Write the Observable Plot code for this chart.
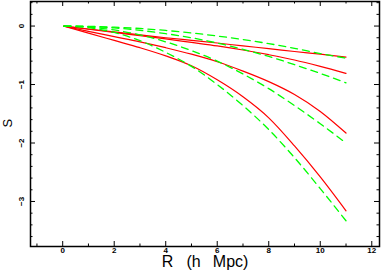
<!DOCTYPE html>
<html><head><meta charset="utf-8">
<script src="https://cdn.jsdelivr.net/npm/d3@7"></script>
<script src="https://cdn.jsdelivr.net/npm/@observablehq/plot@0.6"></script>
<style>body{margin:0;background:#fff}</style>
</head><body><div id="chart"></div>
<script>
// Radius values (h^-1 Mpc)
const R = [0.05, 1, 2, 3, 4, 5, 6, 7, 8, 9, 10, 11];
// Red solid curves
const red1 = [0, -0.05, -0.10, -0.15, -0.20, -0.245, -0.29, -0.34, -0.385, -0.435, -0.48, -0.53];
const red2 = [0, -0.055, -0.11, -0.165, -0.22, -0.28, -0.34, -0.41, -0.49, -0.58, -0.69, -0.81];
const red3 = [0, -0.09, -0.18, -0.27, -0.37, -0.48, -0.61, -0.77, -0.95, -1.17, -1.46, -1.83];
const red4 = [0, -0.12, -0.245, -0.37, -0.51, -0.68, -0.92, -1.21, -1.57, -2.05, -2.58, -3.16];
// Green dashed curves
const green1 = [0, -0.005, -0.019, -0.042, -0.075, -0.118, -0.17, -0.23, -0.30, -0.38, -0.47, -0.55];
const green2 = [0, -0.008, -0.032, -0.073, -0.13, -0.20, -0.29, -0.40, -0.52, -0.66, -0.81, -0.97];
const green3 = [0, -0.017, -0.067, -0.15, -0.27, -0.42, -0.60, -0.82, -1.07, -1.36, -1.67, -2.0];
const green4 = [0, -0.028, -0.11, -0.25, -0.45, -0.69, -1.0, -1.36, -1.77, -2.25, -2.78, -3.33];
// Ticks
const xMajor = [0, 2, 4, 6, 8, 10, 12];
const xTickLabels = ["0", "2", "4", "6", "8", "10", "12"];
const xMinor = [-1, 1, 3, 5, 7, 9, 11];
const yMajor = [0, -1, -2, -3];
const yTickLabels = ["0", "\u22121", "\u22122", "\u22123"];
const yMinor = [0.4, 0.2, -0.2, -0.4, -0.6, -0.8, -1.2, -1.4, -1.6, -1.8, -2.2, -2.4, -2.6, -2.8, -3.2, -3.4, -3.6];
const xLabel = "R\u00a0\u00a0\u00a0(h\u00a0\u00a0\u2009Mpc)";
const yLabel = "S";

const redSeries = [red1, red2, red3, red4];
const greenSeries = [green1, green2, green3, green4];
const toRows = (list, prefix) => list.flatMap((s, k) => s.map((v, i) => ({R: R[i], S: v, series: prefix + k})));
const redRows = toRows(redSeries, "red");
const greenRows = toRows(greenSeries, "green");

const W = 382, H = 274, mL = 30, mR = 3, mT = 1, mB = 28;
const fw = W - mL - mR, fh = H - mT - mB;
const font = "Liberation Sans, Arial, Helvetica, sans-serif";

const chart = Plot.plot({
  width: W, height: H,
  marginLeft: mL, marginRight: mR, marginTop: mT, marginBottom: mB,
  x: {domain: [-1.25, 12.3], axis: null},
  y: {domain: [-3.77, 0.42], axis: null},
  style: {fontFamily: font, background: "#fff", overflow: "visible"},
  marks: [
    Plot.line(redRows, {x: "R", y: "S", z: "series", stroke: "#ff0000", strokeWidth: 1.2, curve: "monotone-x"}),
    Plot.line(greenRows, {x: "R", y: "S", z: "series", stroke: "#00ff00", strokeWidth: 1.3, strokeDasharray: "7,5", curve: "monotone-x"}),
    // ticks bottom/top
    Plot.ruleX(xMajor, {x: d => d, insetTop: fh - 5, stroke: "black", strokeWidth: 1}),
    Plot.ruleX(xMajor, {x: d => d, insetBottom: fh - 5, stroke: "black", strokeWidth: 1}),
    Plot.ruleX(xMinor, {x: d => d, insetTop: fh - 2.5, stroke: "black", strokeWidth: 1}),
    Plot.ruleX(xMinor, {x: d => d, insetBottom: fh - 2.5, stroke: "black", strokeWidth: 1}),
    // ticks left/right
    Plot.ruleY(yMajor, {y: d => d, insetRight: fw - 5, stroke: "black", strokeWidth: 1}),
    Plot.ruleY(yMajor, {y: d => d, insetLeft: fw - 5, stroke: "black", strokeWidth: 1}),
    Plot.ruleY(yMinor, {y: d => d, insetRight: fw - 2.5, stroke: "black", strokeWidth: 1}),
    Plot.ruleY(yMinor, {y: d => d, insetLeft: fw - 2.5, stroke: "black", strokeWidth: 1}),
    Plot.frame({stroke: "black", strokeWidth: 1.5}),
    // tick labels
    Plot.text(xMajor, {x: d => d, text: (d, i) => xTickLabels[i], frameAnchor: "bottom", dy: 6.2, fontSize: 8, fontWeight: "bold", fill: "black"}),
    Plot.text(yMajor, {y: d => d, text: (d, i) => yTickLabels[i], frameAnchor: "left", dx: -9.3, rotate: -90, textAnchor: "middle", fontSize: 8, fontWeight: "bold", fill: "black"}),
    // axis labels
    Plot.text([xLabel], {text: d => d, frameAnchor: "bottom", dy: 20, fontSize: 16, fill: "black", textAnchor: "middle"}),
    Plot.text([yLabel], {text: d => d, frameAnchor: "left", dx: -22.8, dy: -0.8, rotate: -90, fontSize: 13, fill: "black", textAnchor: "middle"})
  ]
});
document.getElementById("chart").appendChild(chart);
</script>
</body></html>
